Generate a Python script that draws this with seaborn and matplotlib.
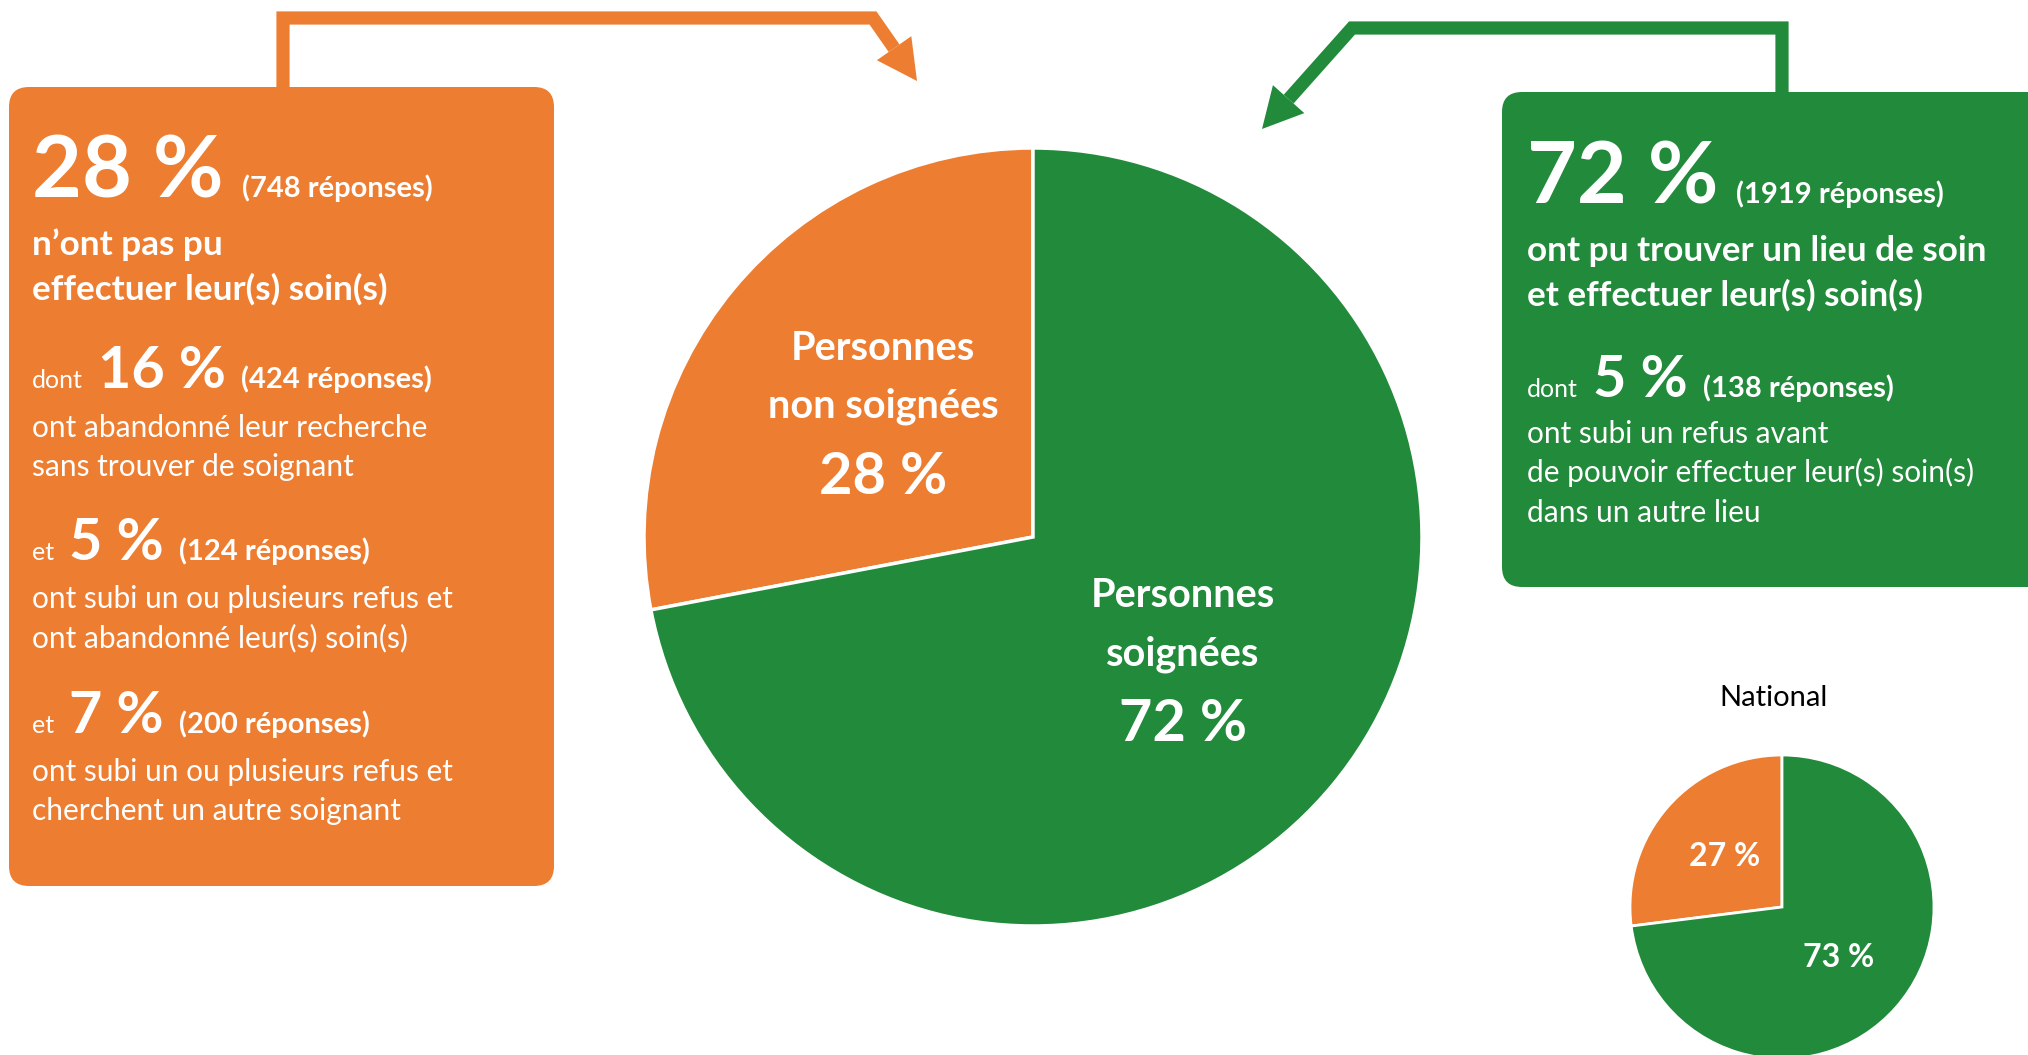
import matplotlib
matplotlib.use("Agg")
import matplotlib.pyplot as plt
import seaborn as sns
from matplotlib.patches import FancyBboxPatch, Polygon
import numpy as np

# data
main_labels = [["Personnes", "non soignées"], ["Personnes", "soignées"]]
main_pct = [28, 72]
national_pct = [27, 73]

orange_pct = [28, 16, 5, 7]
orange_counts = [748, 424, 124, 200]
green_pct = [72, 5]
green_counts = [1919, 138]

ORANGE = "#ED7D31"
GREEN = "#228A3B"

W, H = 2028, 1055

sns.set_theme(style="white")
plt.rcParams['font.family'] = ['Lato', 'DejaVu Sans']


def Y(y):
    return H - y


fig = plt.figure(figsize=(20.28, 10.55), dpi=100)
ax = fig.add_axes([0, 0, 1, 1])
ax.set_xlim(0, W)
ax.set_ylim(0, H)
ax.set_aspect('equal')
ax.axis('off')
renderer = fig.canvas.get_renderer()


def write_runs(x, y, parts, gap=10):
    for txt, size, bold in parts:
        t = ax.text(x, Y(y), txt, fontsize=size, color='white',
                    fontweight='bold' if bold else 'normal',
                    ha='left', va='baseline')
        x += t.get_window_extent(renderer=renderer).width + gap


def arrow(points, tip, color, head_len=40, head_w=42):
    xs = [p[0] for p in points]
    ys = [Y(p[1]) for p in points]
    start = np.array([xs[-1], ys[-1]])
    end = np.array([tip[0], Y(tip[1])])
    d = (end - start) / np.linalg.norm(end - start)
    base = end - d * head_len
    perp = np.array([-d[1], d[0]])
    ax.plot(xs + [base[0]], ys + [base[1]], color=color, lw=9.5,
            solid_joinstyle='miter', solid_capstyle='butt')
    ax.add_patch(Polygon([end, base + perp * head_w / 2, base - perp * head_w / 2],
                         closed=True, fc=color, ec='none'))


# boxes
ax.add_patch(FancyBboxPatch((9, Y(886)), 545, 799,
                            boxstyle="round,pad=0,rounding_size=20",
                            fc=ORANGE, ec='none'))
ax.add_patch(FancyBboxPatch((1502, Y(587)), 580, 495,
                            boxstyle="round,pad=0,rounding_size=20",
                            fc=GREEN, ec='none'))

# connectors
arrow([(283, 87), (283, 18), (873, 18)], (917, 81), ORANGE)
arrow([(1782, 92), (1782, 28), (1352, 28)], (1262, 129), GREEN)

# orange box text
BIG, MID, PAREN, HEAD, BODY, SMALL = 62, 41.5, 21, 25.3, 21.5, 18
write_runs(32, 197, [(f"{orange_pct[0]} %", BIG, True),
                     (f"({orange_counts[0]} réponses)", PAREN, True)], gap=18)
write_runs(32, 255, [("n’ont pas pu", HEAD, True)])
write_runs(32, 300, [("effectuer leur(s) soin(s)", HEAD, True)])
write_runs(32, 388, [("dont", SMALL, False), (f"{orange_pct[1]} %", MID, True),
                     (f"({orange_counts[1]} réponses)", PAREN, True)], gap=15)
write_runs(32, 437, [("ont abandonné leur recherche", BODY, False)])
write_runs(32, 476, [("sans trouver de soignant", BODY, False)])
write_runs(32, 560, [("et", SMALL, False), (f"{orange_pct[2]} %", MID, True),
                     (f"({orange_counts[2]} réponses)", PAREN, True)], gap=15)
write_runs(32, 608, [("ont subi un ou plusieurs refus et", BODY, False)])
write_runs(32, 647, [("ont abandonné leur(s) soin(s)", BODY, False)])
write_runs(32, 733, [("et", SMALL, False), (f"{orange_pct[3]} %", MID, True),
                     (f"({orange_counts[3]} réponses)", PAREN, True)], gap=15)
write_runs(32, 781, [("ont subi un ou plusieurs refus et", BODY, False)])
write_runs(32, 820, [("cherchent un autre soignant", BODY, False)])

# green box text
write_runs(1527, 203, [(f"{green_pct[0]} %", BIG, True),
                       (f"({green_counts[0]} réponses)", PAREN, True)], gap=18)
write_runs(1527, 261, [("ont pu trouver un lieu de soin", HEAD, True)])
write_runs(1527, 306, [("et effectuer leur(s) soin(s)", HEAD, True)])
write_runs(1527, 397, [("dont", SMALL, False), (f"{green_pct[1]} %", MID, True),
                       (f"({green_counts[1]} réponses)", PAREN, True)], gap=15)
write_runs(1527, 443, [("ont subi un refus avant", BODY, False)])
write_runs(1527, 482, [("de pouvoir effectuer leur(s) soin(s)", BODY, False)])
write_runs(1527, 522, [("dans un autre lieu", BODY, False)])

# main pie
wedges, _ = ax.pie(main_pct, colors=[ORANGE, GREEN], startangle=90,
                   center=(1033, Y(537)), radius=389,
                   wedgeprops=dict(edgecolor='white', linewidth=2.5))
for w, lab, p in zip(wedges, main_labels, main_pct):
    ang = np.deg2rad((w.theta1 + w.theta2) / 2)
    lx = 1033 + 0.5 * 389 * np.cos(ang)
    ly = Y(537) + 0.5 * 389 * np.sin(ang)
    for line, off in zip(lab, [65, 7]):
        ax.text(lx, ly + off, line, fontsize=28.5, fontweight='bold',
                color='white', ha='center', va='center')
    ax.text(lx, ly - 64, f"{p} %", fontsize=41.5, fontweight='bold',
            color='white', ha='center', va='center')

# national pie
ax.pie(national_pct, colors=[ORANGE, GREEN], startangle=90,
       center=(1782, Y(907)), radius=152,
       autopct=lambda v: f"{v:.0f} %", pctdistance=0.5,
       wedgeprops=dict(edgecolor='white', linewidth=2),
       textprops=dict(color='white', fontsize=23, fontweight='bold'))
ax.text(1773, Y(698), "National", fontsize=21, color='black',
        ha='center', va='center')

ax.set_xlim(0, W)
ax.set_ylim(0, H)
ax.set_aspect('equal')
ax.axis('off')

fig.savefig("out.png", dpi=100)
